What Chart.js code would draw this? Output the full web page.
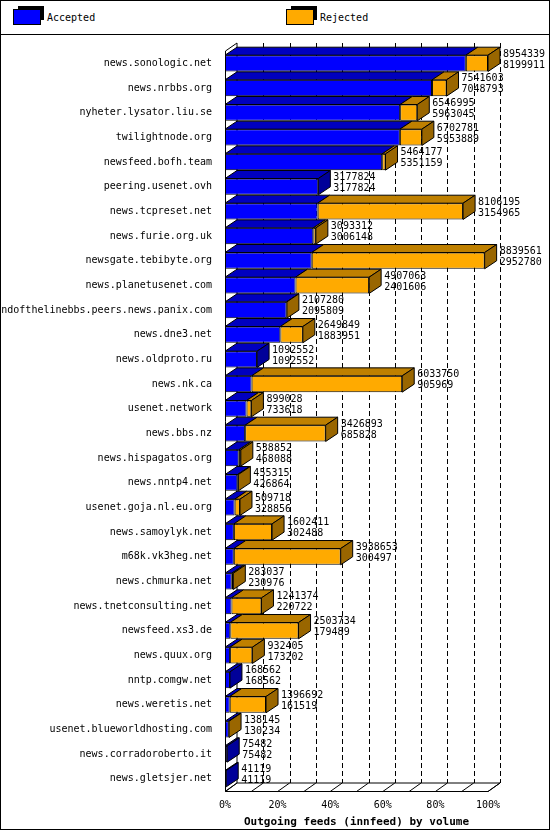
<!DOCTYPE html>
<html>
<head>
<meta charset="utf-8">
<script src="https://cdn.jsdelivr.net/npm/chart.js@4"></script>
<style>
  body { margin: 0; background: #fff; }
  #wrap { width: 548px; height: 828px; border: 1px solid #000; position: relative; font-family: "DejaVu Sans Mono", monospace; font-size: 10px; }
  #legend { height: 33px; border-bottom: 1px solid #000; position: relative; }
  .item { position: absolute; top: 8px; display: flex; align-items: center; }
  .box { width: 26px; height: 14px; margin-right: 6px; border: 1px solid #000; box-shadow: 4px -4px 0 -1px #000; }
  canvas { display: block; }
</style>
</head>
<body>
<div id="wrap">
  <div id="legend">
    <div class="item" style="left:12px"><div class="box" style="background:#0000ff"></div>Accepted</div>
    <div class="item" style="left:285px"><div class="box" style="background:#ffaa00"></div>Rejected</div>
  </div>
  <canvas id="chart" width="548" height="794"></canvas>
</div>
<script>
const hosts = ['news.sonologic.net', 'news.nrbbs.org', 'nyheter.lysator.liu.se', 'twilightnode.org', 'newsfeed.bofh.team',
    'peering.usenet.ovh', 'news.tcpreset.net', 'news.furie.org.uk', 'newsgate.tebibyte.org', 'news.planetusenet.com',
    'endofthelinebbs.peers.news.panix.com', 'news.dne3.net', 'news.oldproto.ru', 'news.nk.ca', 'usenet.network',
    'news.bbs.nz', 'news.hispagatos.org', 'news.nntp4.net', 'usenet.goja.nl.eu.org', 'news.samoylyk.net',
    'm68k.vk3heg.net', 'news.chmurka.net', 'news.tnetconsulting.net', 'newsfeed.xs3.de', 'news.quux.org',
    'nntp.comgw.net', 'news.weretis.net', 'usenet.blueworldhosting.com', 'news.corradoroberto.it', 'news.gletsjer.net'];
const offered = [8954339, 7541603, 6546995, 6702781, 5464177, 3177824, 8106195, 3093312, 8839561, 4907063,
    2107280, 2649849, 1092552, 6033750, 899028, 3426893, 538852, 455315, 509718, 1602411,
    3938653, 283037, 1241374, 2503734, 932405, 168562, 1396692, 138145, 75482, 41119];
const accepted = [8199911, 7048793, 5963045, 5953889, 5351159, 3177824, 3154965, 3006148, 2952780, 2401606,
    2095809, 1883951, 1092552, 905969, 733618, 685828, 468088, 426864, 328856, 302488,
    300497, 230976, 220722, 179489, 173202, 168562, 161519, 130234, 75482, 41119];
const xTicks = [0, 10, 20, 30, 40, 50, 60, 70, 80, 90, 100];

const maxVal = Math.max(...offered);
let accPct = accepted.map(v => v / maxVal * 100);
let rejPct = offered.map((v, i) => (v - accepted[i]) / maxVal * 100);

const DX = 12, DY = -8;
const font = '10px "DejaVu Sans Mono", monospace';

function shade(hex, f) {
    let n = parseInt(hex.slice(1), 16);
    let r = Math.round(((n >> 16) & 255) * f), g = Math.round(((n >> 8) & 255) * f), b = Math.round((n & 255) * f);
    return `rgb(${r},${g},${b})`;
}

let wallPlugin = {
    id: 'wall',
    beforeDatasetsDraw(chart) {
        let ctx = chart.ctx, a = chart.chartArea, xs = chart.scales.x;
        ctx.save();
        ctx.strokeStyle = '#000';
        ctx.lineWidth = 1;
        ctx.setLineDash([5, 3]);
        for (let t of xTicks) {
            if (t === 0) continue;
            let x = Math.round(xs.getPixelForValue(t)) + 0.5;
            ctx.beginPath();
            ctx.moveTo(x + DX, a.top + DY);
            ctx.lineTo(x + DX, a.bottom + DY);
            ctx.stroke();
        }
        ctx.setLineDash([]);
        // back wall left edge, floor
        ctx.beginPath();
        ctx.moveTo(a.left + 0.5, a.top);
        ctx.lineTo(a.left + 0.5, a.bottom + 0.5);
        ctx.lineTo(xs.getPixelForValue(100), a.bottom + 0.5);
        ctx.lineTo(xs.getPixelForValue(100) + DX, a.bottom + DY);
        ctx.lineTo(a.left + DX, a.bottom + DY);
        ctx.lineTo(a.left + DX, a.top + DY);
        ctx.moveTo(a.left + 0.5, a.bottom + 0.5);
        ctx.lineTo(a.left + DX, a.bottom + DY);
        ctx.moveTo(a.left + 0.5, a.top);
        ctx.lineTo(a.left + DX, a.top + DY);
        ctx.stroke();
        for (let t of xTicks) {
            let x = xs.getPixelForValue(t);
            ctx.beginPath();
            ctx.moveTo(x, a.bottom + 0.5);
            ctx.lineTo(x + DX, a.bottom + DY);
            ctx.stroke();
        }
        ctx.restore();
    },
    afterDatasetsDraw(chart) {
        let ctx = chart.ctx;
        ctx.save();
        ctx.lineWidth = 1;
        ctx.strokeStyle = '#000';
        let n = hosts.length;
        for (let i = 0; i < n; i++) {
            let end = null;
            chart.data.datasets.forEach((ds, di) => {
                let el = chart.getDatasetMeta(di).data[i];
                if (!el || ds.data[i] <= 0) return;
                let x0 = el.base, x1 = el.x, top = el.y - el.height / 2, bot = el.y + el.height / 2;
                // top face
                ctx.fillStyle = shade(ds.backgroundColor, 0.75);
                ctx.beginPath();
                ctx.moveTo(x0, top); ctx.lineTo(x0 + DX, top + DY);
                ctx.lineTo(x1 + DX, top + DY); ctx.lineTo(x1, top); ctx.closePath();
                ctx.fill(); ctx.stroke();
                end = { x: x1, top, bot, color: ds.backgroundColor };
            });
            if (end) {
                ctx.fillStyle = shade(end.color, 0.6);
                ctx.beginPath();
                ctx.moveTo(end.x, end.top); ctx.lineTo(end.x + DX, end.top + DY);
                ctx.lineTo(end.x + DX, end.bot + DY); ctx.lineTo(end.x, end.bot); ctx.closePath();
                ctx.fill(); ctx.stroke();
                ctx.fillStyle = '#000';
                ctx.font = font;
                ctx.textBaseline = 'middle';
                ctx.fillText(String(offered[i]), end.x + DX + 3, end.top - 1);
                ctx.fillText(String(accepted[i]), end.x + DX + 3, end.top + 10);
            }
        }
        ctx.restore();
    }
};

new Chart(document.getElementById('chart'), {
    type: 'bar',
    data: {
        labels: hosts,
        datasets: [
            { label: 'Accepted', data: accPct, backgroundColor: '#0000ff', borderColor: '#000', borderWidth: 1, borderSkipped: false },
            { label: 'Rejected', data: rejPct, backgroundColor: '#ffaa00', borderColor: '#000', borderWidth: 1, borderSkipped: false }
        ]
    },
    options: {
        indexAxis: 'y',
        responsive: false,
        animation: false,
        layout: { padding: { top: 16, right: 61, left: 0, bottom: 0 } },
        datasets: { bar: { categoryPercentage: 0.66, barPercentage: 1 } },
        plugins: { legend: { display: false }, tooltip: { enabled: false } },
        scales: {
            x: {
                stacked: true, min: 0, max: 100,
                grid: { display: false },
                border: { display: false },
                afterBuildTicks: s => { s.ticks = xTicks.map(v => ({ value: v })); },
                afterFit: s => { s.height = 38; },
                ticks: { color: '#000', font: { family: 'DejaVu Sans Mono', size: 10 }, padding: 0, maxRotation: 0, callback: v => v + '%' },
                title: { display: true, text: 'Outgoing feeds (innfeed) by volume', color: '#000', padding: { top: 0, bottom: 0 },
                    font: { family: 'DejaVu Sans Mono', size: 11, weight: 'bold' } }
            },
            y: {
                stacked: true,
                grid: { display: false },
                border: { display: false },
                afterFit: s => { s.width = 224; },
                ticks: { color: '#000', font: { family: 'DejaVu Sans Mono', size: 10 }, padding: 5, autoSkip: false }
            }
        }
    },
    plugins: [wallPlugin]
});
</script>
</body>
</html>
